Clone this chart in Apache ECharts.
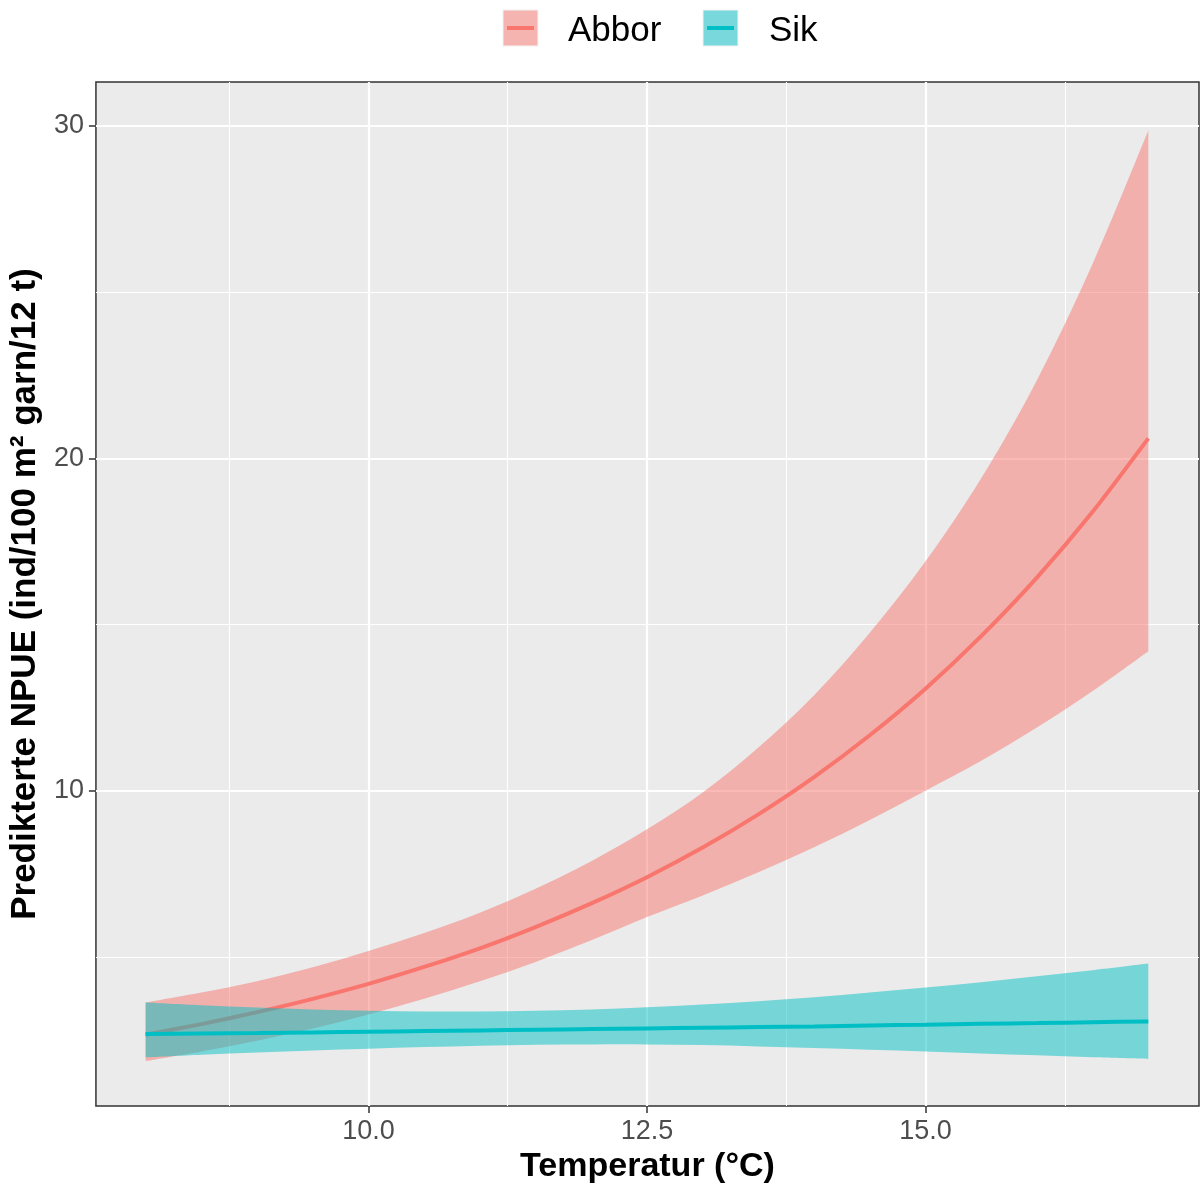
<!DOCTYPE html>
<html>
<head>
<meta charset="utf-8">
<script src="https://cdn.jsdelivr.net/npm/echarts@6/dist/echarts.min.js"></script>
<style>
  html, body { margin: 0; padding: 0; background: #ffffff; }
  #chart { width: 1201px; height: 1189px; }
</style>
</head>
<body>
<div id="chart"></div>
<script>
// Predicted NPUE versus water temperature, with 95 % confidence bands
const temperatur = [8, 8.5, 9, 9.5, 10, 10.5, 11, 11.5, 12, 12.5, 13, 13.5, 14, 14.5, 15, 15.5, 16, 16.5, 17];

const abborFit   = [2.66, 2.98, 3.34, 3.74, 4.19, 4.70, 5.26, 5.90, 6.61, 7.40, 8.29, 9.29, 10.41, 11.67, 13.07, 14.65, 16.41, 18.39, 20.60];
const abborLower = [1.87, 2.16, 2.48, 2.85, 3.27, 3.74, 4.27, 4.85, 5.50, 6.20, 6.85, 7.55, 8.30, 9.12, 10.00, 10.90, 11.90, 13.00, 14.20];
const abborUpper = [3.63, 3.93, 4.27, 4.69, 5.18, 5.72, 6.33, 7.05, 7.88, 8.84, 9.95, 11.30, 12.87, 14.75, 16.90, 19.40, 22.35, 25.85, 29.86];

const sikFit   = [2.68, 2.70, 2.71, 2.73, 2.75, 2.77, 2.79, 2.81, 2.83, 2.85, 2.87, 2.89, 2.91, 2.94, 2.96, 2.99, 3.01, 3.04, 3.06];
const sikLower = [1.98, 2.06, 2.13, 2.19, 2.24, 2.29, 2.33, 2.36, 2.37, 2.37, 2.35, 2.31, 2.26, 2.21, 2.16, 2.10, 2.04, 1.98, 1.93];
const sikUpper = [3.63, 3.55, 3.48, 3.42, 3.38, 3.36, 3.36, 3.38, 3.42, 3.49, 3.57, 3.67, 3.79, 3.93, 4.08, 4.24, 4.42, 4.60, 4.80];

const artNavn = ['Abbor', 'Sik'];

const xTicks = [10, 12.5, 15];
const xMinorTicks = [8.75, 11.25, 13.75, 16.25];
const yTicks = [10, 20, 30];
const yMinorTicks = [5, 15, 25];

const FONT = 'Liberation Sans, Arial, Helvetica, sans-serif';
const colors = { Abbor: '#F8766D', Sik: '#00BFC4' };
const bandColors = { Abbor: 'rgba(248,118,109,0.5)', Sik: 'rgba(0,191,196,0.5)' };
const keyColors = { Abbor: '#F5B4B0', Sik: '#79D8DB' };

const pairs = (ys) => temperatur.map((t, i) => [t, ys[i]]);

// smooth path segments (Catmull-Rom as cubic Bézier) through pixel points
function smoothSegments(pts) {
  let d = '';
  for (let i = 0; i < pts.length - 1; i++) {
    const p0 = pts[Math.max(i - 1, 0)];
    const p1 = pts[i];
    const p2 = pts[i + 1];
    const p3 = pts[Math.min(i + 2, pts.length - 1)];
    const c1x = p1[0] + (p2[0] - p0[0]) / 6, c1y = p1[1] + (p2[1] - p0[1]) / 6;
    const c2x = p2[0] - (p3[0] - p1[0]) / 6, c2y = p2[1] - (p3[1] - p1[1]) / 6;
    d += ` C ${c1x} ${c1y} ${c2x} ${c2y} ${p2[0]} ${p2[1]}`;
  }
  return d;
}

// confidence ribbon: along the upper edge, down the end, back along the lower edge
function bandSeries(name, lo, hi, z) {
  return {
    name: name + ' KI',
    type: 'custom',
    data: [[temperatur[0], lo[0]]],
    encode: { x: 0, y: 1 },
    silent: true,
    clip: true,
    z: z,
    renderItem: (params, api) => {
      const top = temperatur.map((t, i) => api.coord([t, hi[i]]));
      const bottom = temperatur.map((t, i) => api.coord([t, lo[i]])).reverse();
      const d = `M ${top[0][0]} ${top[0][1]}` + smoothSegments(top) +
                ` L ${bottom[0][0]} ${bottom[0][1]}` + smoothSegments(bottom) + ' Z';
      return {
        type: 'path',
        shape: { pathData: d },
        style: { fill: bandColors[name], stroke: null }
      };
    }
  };
}

function fitSeries(name, ys, z) {
  return {
    name: name,
    type: 'line',
    data: pairs(ys),
    symbol: 'none',
    smooth: 0.25,
    lineStyle: { color: colors[name], width: 4 },
    silent: true,
    z: z
  };
}

// panel grid lines (major + minor), drawn beneath the ribbons
const gridLines = {
  name: 'rutenett',
  type: 'line',
  data: [],
  silent: true,
  markLine: {
    silent: true,
    symbol: 'none',
    animation: false,
    z: 1,
    label: { show: false },
    emphasis: { disabled: true },
    data: [
      ...xMinorTicks.map(v => ({ xAxis: v, lineStyle: { color: '#ffffff', width: 1.1, type: 'solid' } })),
      ...yMinorTicks.map(v => ({ yAxis: v, lineStyle: { color: '#ffffff', width: 1.1, type: 'solid' } })),
      ...xTicks.map(v => ({ xAxis: v, lineStyle: { color: '#ffffff', width: 2.2, type: 'solid' } })),
      ...yTicks.map(v => ({ yAxis: v, lineStyle: { color: '#ffffff', width: 2.2, type: 'solid' } }))
    ]
  }
};

// legend keys: filled square with the fit line through it
const legendItems = [];
const legendPos = [{ key: 503, text: 568 }, { key: 703, text: 769 }];
artNavn.forEach((n, i) => {
  const p = legendPos[i];
  legendItems.push({
    type: 'rect',
    shape: { x: p.key, y: 10, width: 35, height: 36 },
    style: { fill: keyColors[n], stroke: '#f2f2f2', lineWidth: 1 }
  });
  legendItems.push({
    type: 'line',
    shape: { x1: p.key + 4, y1: 28, x2: p.key + 31, y2: 28 },
    style: { stroke: colors[n], lineWidth: 4 }
  });
  legendItems.push({
    type: 'text',
    x: p.text,
    y: 31,
    style: { text: n, fill: '#000000', font: '35px ' + FONT, textVerticalAlign: 'middle' }
  });
});

const chart = echarts.init(document.getElementById('chart'), null, { renderer: 'canvas' });
chart.setOption({
  animation: false,
  backgroundColor: '#ffffff',
  textStyle: { fontFamily: FONT },
  grid: {
    left: 95, top: 82, right: 2, bottom: 82,
    show: true,
    backgroundColor: '#EBEBEB',
    borderColor: '#333333',
    borderWidth: 1.5,
    containLabel: false
  },
  xAxis: {
    type: 'value',
    min: 7.554,
    max: 17.455,
    name: 'Temperatur (°C)',
    nameLocation: 'middle',
    nameGap: 40,
    nameTextStyle: { fontSize: 34, fontWeight: 'bold', color: '#000000', fontFamily: FONT },
    axisLine: { show: false },
    axisTick: { show: true, length: 7, customValues: xTicks, lineStyle: { color: '#333333', width: 1.5 } },
    axisLabel: { show: true, customValues: xTicks, margin: 12, fontSize: 27, color: '#4D4D4D', fontFamily: FONT,
                 formatter: v => v.toFixed(1) },
    splitLine: { show: false },
    minorSplitLine: { show: false }
  },
  yAxis: {
    type: 'value',
    min: 0.514,
    max: 31.32,
    name: 'Predikterte NPUE (ind/100 m² garn/12 t)',
    nameLocation: 'middle',
    nameGap: 48,
    nameRotate: 90,
    nameTextStyle: { fontSize: 35, fontWeight: 'bold', color: '#000000', fontFamily: FONT },
    axisLine: { show: false },
    axisTick: { show: true, length: 7, customValues: yTicks, lineStyle: { color: '#333333', width: 1.5 } },
    axisLabel: { show: true, customValues: yTicks, margin: 12, fontSize: 27, color: '#4D4D4D', fontFamily: FONT,
                 formatter: v => String(Math.round(v)) },
    splitLine: { show: false },
    minorSplitLine: { show: false }
  },
  series: [
    gridLines,
    bandSeries('Abbor', abborLower, abborUpper, 2),
    fitSeries('Abbor', abborFit, 3),
    bandSeries('Sik', sikLower, sikUpper, 4),
    fitSeries('Sik', sikFit, 5)
  ],
  graphic: legendItems
});
</script>
</body>
</html>
